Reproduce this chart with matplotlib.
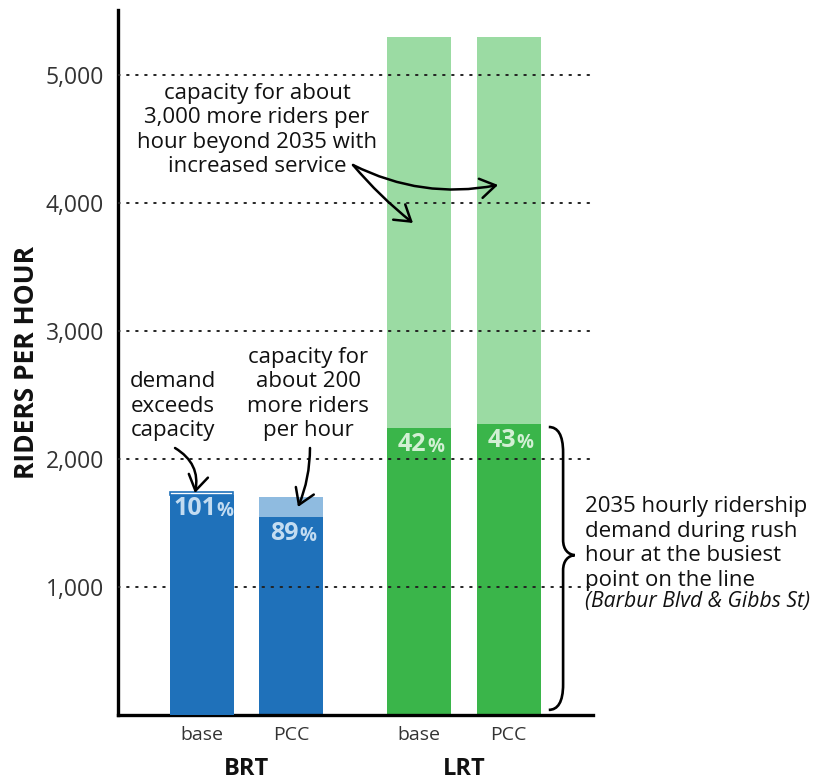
import matplotlib
matplotlib.use("Agg")
import matplotlib.pyplot as plt
from matplotlib.path import Path
from matplotlib.patches import PathPatch, FancyArrowPatch

# ---------------- data ----------------
modes = ["BRT", "LRT"]
options = ["base", "PCC", "base", "PCC"]
capacity = [1715, 1700, 5300, 5300]
demand = [1740, 1545, 2240, 2270]
pct_labels = ["101", "89", "42", "43"]
y_ticks = [1000, 2000, 3000, 4000, 5000]

# ---------------- style ----------------
FONT = "Open Sans"
plt.rcParams["font.family"] = [FONT, "DejaVu Sans"]
plt.rcParams["lines.scale_dashes"] = False

dark = ["#1F71BA", "#1F71BA", "#3AB54A", "#3AB54A"]
light = ["#8FBBE0", "#8FBBE0", "#9BDBA3", "#9BDBA3"]
pct_col = ["#C3DCF1", "#C3DCF1", "#D2F0D4", "#D2F0D4"]
TXT = "#111111"

positions = [0, 1, 2.43, 3.43]
width = 0.715

fig = plt.figure(figsize=(8.15, 7.82), dpi=100)
ax = fig.add_axes([0.1448, 0.0857, 0.7276 - 0.1448, 0.9872 - 0.0857])
ax.set_xlim(-0.933, 4.374)
ax.set_ylim(0, 5508)

for i, x in enumerate(positions):
    d, c = demand[i], capacity[i]
    z = 4 if i == 0 else 2
    if d <= c:
        ax.bar(x, d, width, color=dark[i], zorder=z, linewidth=0)
        ax.bar(x, c - d, width, bottom=d, color=light[i], zorder=z, linewidth=0)
    else:
        ax.bar(x, c, width, color=dark[i], zorder=z, linewidth=0)
        ax.bar(x, d - c, width * 0.985, bottom=c, facecolor="white",
               edgecolor=dark[i], linewidth=1.2, zorder=z)
    t = ax.annotate(pct_labels[i], xy=(x, d - 125), xytext=(-5, 0),
                    textcoords="offset points", ha="center", va="center",
                    fontsize=18, fontweight="bold", color=pct_col[i], zorder=6)
    ax.annotate("%", xy=(1, 0), xycoords=t, xytext=(0.5, 0),
                textcoords="offset points", ha="left", va="bottom",
                fontsize=13.5, fontweight="bold", color=pct_col[i], zorder=6)

# dotted gridlines over bars
for yv in y_ticks:
    ax.axhline(yv, color="#222222", linewidth=1.4, linestyle=(0, (1.2, 5.3)),
               dash_capstyle="round", zorder=3)

# axes styling
for s in ["top", "right"]:
    ax.spines[s].set_visible(False)
ax.spines["left"].set_linewidth(2.4)
ax.spines["bottom"].set_linewidth(2.4)
ax.set_yticks(y_ticks)
ax.set_yticklabels([f"{v:,}" for v in y_ticks], fontsize=16.5, color="#333333")
ax.tick_params(axis="y", length=0, pad=10)
ax.set_xticks(positions)
ax.set_xticklabels(options, fontsize=14, color="#333333")
ax.tick_params(axis="x", length=0, pad=8)
ax.set_ylabel("RIDERS PER HOUR", fontsize=19, fontweight="bold", color=TXT)
ax.yaxis.set_label_coords(-0.165, 0.5)

# group labels
for g, m in enumerate(modes):
    cx = (positions[2 * g] + positions[2 * g + 1]) / 2
    ax.text(cx, -0.077, m, transform=ax.get_xaxis_transform(), ha="center",
            va="center", fontsize=17, fontweight="bold", color=TXT)

# annotations
ann_kw = dict(ha="center", va="center", fontsize=16, color=TXT, linespacing=1.22)
ax.text(0.62, 4570, "capacity for about\n3,000 more riders per\nhour beyond 2035 with\nincreased service", **ann_kw)
ax.text(-0.32, 2414, "demand\nexceeds\ncapacity", **ann_kw)
ax.text(1.19, 2508, "capacity for\nabout 200\nmore riders\nper hour", **ann_kw)

arrow_kw = dict(arrowstyle="->,head_length=0.55,head_width=0.35", color="black",
                linewidth=1.8, zorder=7, shrinkA=0, shrinkB=0, mutation_scale=20)
for (p0, p1, rad) in [((-0.296, 2086), (-0.073, 1734), -0.35),
                      ((1.212, 2086), (1.078, 1625), -0.1),
                      ((1.693, 4297), (3.313, 4141), 0.17),
                      ((1.693, 4297), (2.363, 3844), 0.05)]:
    ax.add_patch(FancyArrowPatch(p0, p1, connectionstyle=f"arc3,rad={rad}",
                                 clip_on=False, **arrow_kw))

# curly brace for LRT demand
y0, y1 = 40, 2250
ym = y0 + 0.547 * (y1 - y0)
xe, xv, xt = 3.88, 4.04, 4.17
verts = [(xe, y1), (xe + 0.1, y1), (xv, y1 - 60), (xv, y1 - 200),
         (xv, ym + 120),
         (xv, ym + 40), (xv + 0.06, ym + 5), (xt, ym),
         (xv + 0.06, ym - 5), (xv, ym - 40), (xv, ym - 120),
         (xv, y0 + 200),
         (xv, y0 + 60), (xe + 0.1, y0), (xe, y0)]
codes = [Path.MOVETO, Path.CURVE4, Path.CURVE4, Path.CURVE4,
         Path.LINETO,
         Path.CURVE4, Path.CURVE4, Path.CURVE4,
         Path.CURVE4, Path.CURVE4, Path.CURVE4,
         Path.LINETO,
         Path.CURVE4, Path.CURVE4, Path.CURVE4]
ax.add_patch(PathPatch(Path(verts, codes), facecolor="none", edgecolor="black",
                       linewidth=1.9, clip_on=False, zorder=7))

t = ax.text(4.285, 1710, "2035 hourly ridership\ndemand during rush\nhour at the busiest\npoint on the line",
            ha="left", va="top", fontsize=16, color=TXT, linespacing=1.22)
ax.annotate("(Barbur Blvd & Gibbs St)", xy=(0, 0), xycoords=t, xytext=(0, 0),
            textcoords="offset points", ha="left", va="top", fontsize=15.2,
            style="italic", color=TXT)

fig.savefig("out.png", dpi=100)
